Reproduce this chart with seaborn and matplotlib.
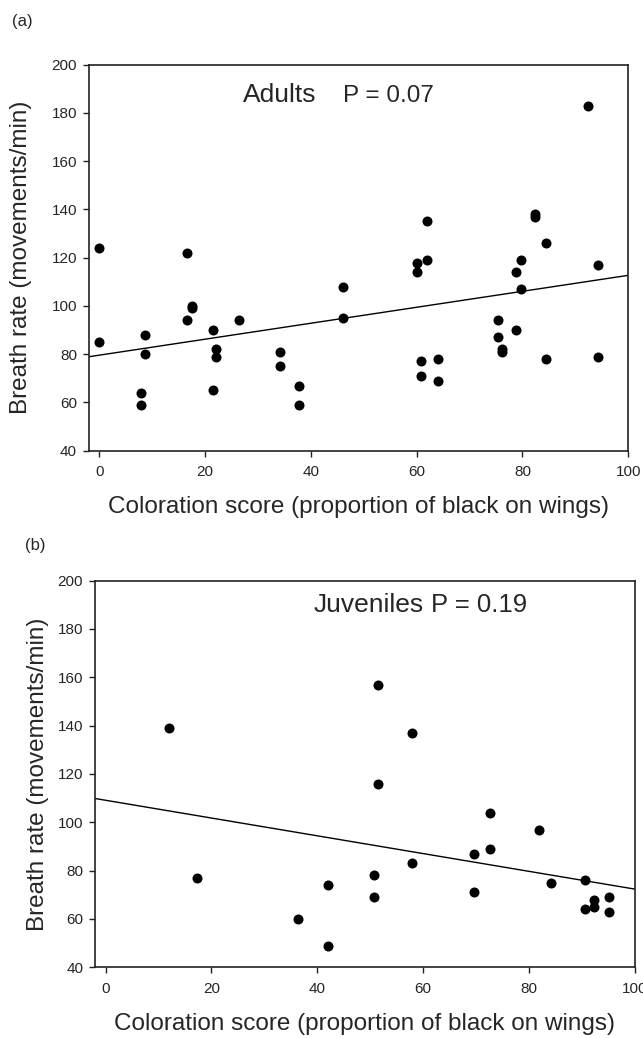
import seaborn as sns
import matplotlib.pyplot as plt
import pandas as pd

# adults: coloration score vs breath rate
adult_color = [0, 0, 7.9, 7.9, 8.7, 8.7, 16.6, 16.6, 17.5, 17.5, 21.5, 22, 22, 21.5,
               26.4, 34.1, 34.1, 37.8, 37.8, 46.1, 46.1, 61.9, 60, 61.9, 60, 60.8,
               60.8, 64, 64, 82.4, 82.4, 84.4, 79.8, 78.7, 79.8, 75.3, 75.3, 76.1,
               76.1, 78.7, 84.4, 92.4, 94.2, 94.2]
adult_breath = [124, 85, 64, 59, 88, 80, 122, 94, 100, 99, 90, 82, 79, 65,
                94, 81, 75, 67, 59, 108, 95, 135, 118, 119, 114, 77,
                71, 78, 69, 138, 137, 126, 119, 114, 107, 94, 87, 82,
                81, 90, 78, 183, 117, 79]

# juveniles
juv_color = [12, 17.2, 36.3, 42, 42, 51.5, 58, 51.5, 50.8, 50.8, 58, 72.7, 72.7,
             69.6, 69.6, 82, 84.1, 90.6, 90.6, 92.4, 92.4, 95.2, 95.2]
juv_breath = [139, 77, 60, 74, 49, 157, 137, 116, 78, 69, 83, 104, 89,
              87, 71, 97, 75, 76, 64, 68, 65, 69, 63]

x_ticks = [0, 20, 40, 60, 80, 100]
y_ticks = [40, 60, 80, 100, 120, 140, 160, 180, 200]

adults = pd.DataFrame({'color': adult_color, 'breath': adult_breath})
juveniles = pd.DataFrame({'color': juv_color, 'breath': juv_breath})

sns.set_style('ticks')
plt.rcParams['font.family'] = ['Liberation Sans', 'DejaVu Sans']

fig = plt.figure(figsize=(6.43, 10.38), dpi=100)
ax1 = fig.add_axes([0.138, 0.5658, 0.839, 0.3719])
ax2 = fig.add_axes([0.1477, 0.0681, 0.8393, 0.3725])


def draw_panel(ax, df, name, pval, name_x, p_x, text_y, p_size, ylabelpad):
    ax.set_xlim(-2, 100)
    ax.set_ylim(40, 200)
    sns.regplot(data=df, x='color', y='breath', ax=ax, ci=None, truncate=False,
                scatter_kws={'s': 52, 'color': 'black', 'linewidths': 0, 'alpha': 1},
                line_kws={'color': 'black', 'lw': 1.0})
    ax.set_xticks(x_ticks)
    ax.set_yticks(y_ticks)
    ax.tick_params(direction='out', length=4.5, width=1, color='#222222',
                   labelsize=11, top=False, right=False)
    ax.tick_params(axis='x', pad=6)
    ax.tick_params(axis='y', pad=4)
    for s in ax.spines.values():
        s.set_linewidth(1.2)
        s.set_color('#222222')
        s.set_visible(True)
    ax.set_xlabel('Coloration score (proportion of black on wings)',
                  fontsize=17.5, labelpad=12)
    ax.set_ylabel('Breath rate (movements/min)', fontsize=17.5,
                  labelpad=ylabelpad)
    ax.text(name_x, text_y, name, transform=ax.transAxes, fontsize=19,
            va='baseline', ha='left')
    ax.text(p_x, text_y, pval, transform=ax.transAxes, fontsize=p_size,
            va='baseline', ha='left')


draw_panel(ax1, adults, 'Adults', 'P = 0.07', 0.286, 0.471, 0.904, 17.5, 14)
draw_panel(ax2, juveniles, 'Juveniles', 'P = 0.19', 0.406, 0.622, 0.920, 18.5, 6)

fig.text(12 / 643, 1 - 21.5 / 1038, '(a)', fontsize=12, ha='left', va='center')
fig.text(25 / 643, 1 - 545.7 / 1038, '(b)', fontsize=12, ha='left', va='center')

fig.savefig('out.png', dpi=100)
